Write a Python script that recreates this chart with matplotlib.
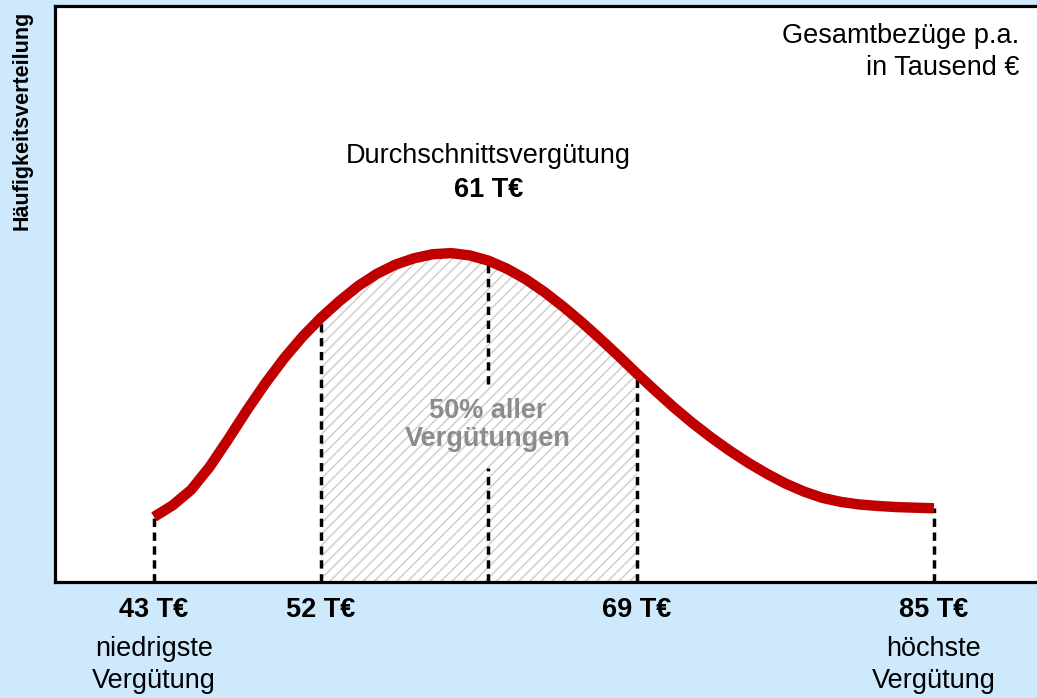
import matplotlib
matplotlib.use("Agg")
import matplotlib.pyplot as plt
import numpy as np

# ---- data ----
salary = [43, 44, 45, 46, 47, 48, 49, 50, 51, 52, 53, 54, 55, 56, 57, 58, 59, 60, 61,
          62, 63, 64, 65, 66, 67, 68, 69, 70, 71, 72, 73, 74, 75, 76, 77, 78, 79, 80,
          81, 82, 83, 84, 85]
frequency = [11.3, 13.3, 16.0, 20.0, 24.8, 29.8, 34.5, 38.8, 42.6, 45.9, 48.8, 51.4,
             53.5, 55.1, 56.2, 56.9, 57.1, 56.7, 55.8, 54.4, 52.6, 50.4, 47.9, 45.2,
             42.3, 39.3, 36.2, 33.2, 30.3, 27.6, 25.1, 22.8, 20.7, 18.8, 17.1, 15.7,
             14.6, 13.9, 13.45, 13.2, 13.0, 12.9, 12.8]
markers = [43, 52, 61, 69, 85]
marker_labels = ["43 T€", "52 T€", "61 T€", "69 T€", "85 T€"]
q_low, q_high = 52, 69
mean_value = 61

plt.rcParams['font.family'] = ['Liberation Sans', 'DejaVu Sans']
plt.rcParams['hatch.linewidth'] = 1.1

bg = '#cde9fb'
fig = plt.figure(figsize=(10.37, 6.98), dpi=100, facecolor=bg)
ax = fig.add_axes([55/1037, 1 - 582/698, 1 - 55/1037, (582 - 6)/698])
ax.set_facecolor('white')
ax.set_xlim(37.67, 90.55)
ax.set_ylim(0, 100)

x = np.array(salary, dtype=float)
y = np.array(frequency)

# hatched interquartile area
m = (x >= q_low) & (x <= q_high)
ax.fill_between(x[m], 0, y[m], facecolor='none', edgecolor='#cfcfcf', hatch='///',
                linewidth=0, zorder=1)

def yat(v):
    return y[salary.index(v)]

# dashed verticals
ds = (0, (2.4, 1.6))
for v in [43, 52, 69, 85]:
    ax.plot([v, v], [0, yat(v)], color='black', lw=2.5, linestyle=ds, zorder=2)
ax.plot([mean_value, mean_value], [34.4, yat(mean_value)], color='black', lw=2.5,
        linestyle=ds, zorder=2)
ax.plot([mean_value, mean_value], [0, 19.8], color='black', lw=2.5, linestyle=ds, zorder=2)

# curve
ax.plot(x, y, color='#c00000', lw=7.5, solid_capstyle='butt', solid_joinstyle='round',
        zorder=3)

# spines
for s in ['left', 'bottom', 'top']:
    ax.spines[s].set_linewidth(2.3)
    ax.spines[s].set_color('black')
ax.spines['right'].set_visible(False)
ax.set_xticks([])
ax.set_yticks([])

fs = 19.5
# labels below axis
for v, lab in zip(markers, marker_labels):
    if v == mean_value:
        continue
    ax.text(v, (582 - 610) / 5.76, lab, ha='center', va='center', fontsize=fs,
            fontweight='bold', clip_on=False)
ax.text(43, (582 - 665) / 5.76, "niedrigste\nVergütung", ha='center', va='center',
        fontsize=fs, linespacing=1.32, clip_on=False)
ax.text(85, (582 - 665) / 5.76, "höchste\nVergütung", ha='center', va='center',
        fontsize=fs, linespacing=1.32, clip_on=False)

# annotations
ax.text(mean_value, (582 - 156) / 5.76, "Durchschnittsvergütung", ha='center', va='center',
        fontsize=fs)
ax.text(mean_value, (582 - 190) / 5.76, "61 T€", ha='center', va='center', fontsize=fs,
        fontweight='bold')
ax.text(mean_value, (582 - 425) / 5.76, "50% aller\nVergütungen", ha='center', va='center',
        fontsize=fs, fontweight='bold', color='#8c8c8c', linespacing=1.1)
ax.text(89.6, (582 - 52) / 5.76, "Gesamtbezüge p.a.\nin Tausend €", ha='right',
        va='center', fontsize=fs, linespacing=1.33)

fig.text(22/1037, 1 - 120/698, "Häufigkeitsverteilung", rotation=90, ha='center',
         va='center', fontsize=15.5, fontweight='bold')

fig.savefig("out.png", dpi=100, facecolor=bg)
